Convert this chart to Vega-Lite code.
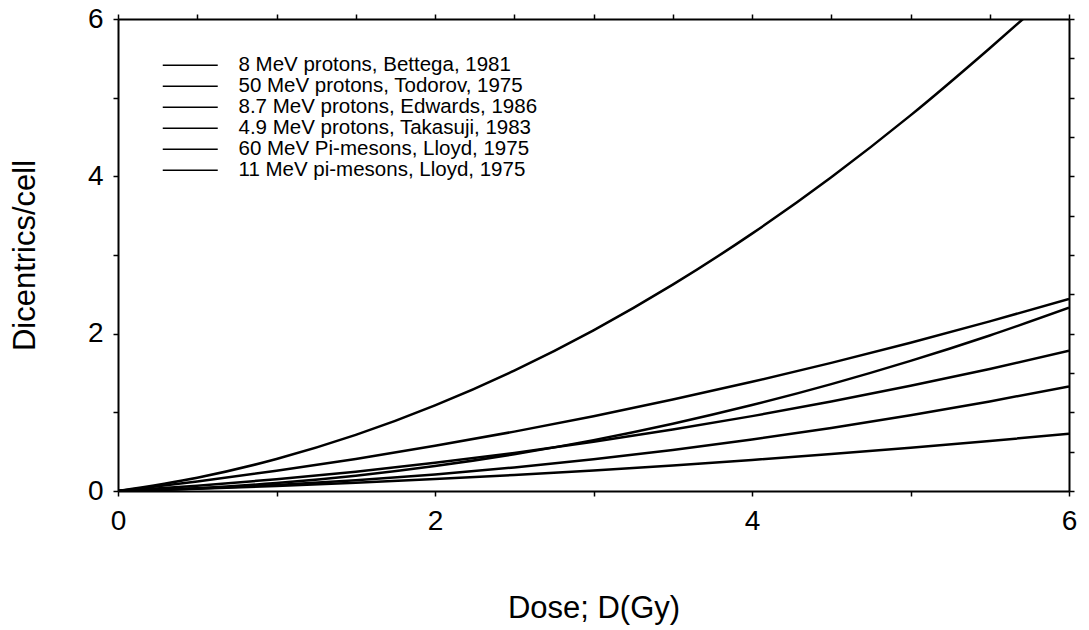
{
  "$schema": "https://vega.github.io/schema/vega-lite/v6.json",
  "width": 951,
  "height": 472,
  "autosize": {"type": "none"},
  "padding": {"left": 118, "top": 19, "right": 20, "bottom": 139},
  "background": "white",
  "config": {
    "view": {"stroke": null},
    "font": "Liberation Sans",
    "axis": {
      "domainColor": "black",
      "domainWidth": 2,
      "tickColor": "black",
      "tickWidth": 1.5,
      "tickSize": 5,
      "grid": false,
      "labelColor": "black",
      "titleColor": "black",
      "labelFont": "Liberation Sans",
      "titleFont": "Liberation Sans",
      "titleFontWeight": "normal"
    }
  },
  "data": {
    "values": [
      {"series": "8 MeV protons, Bettega, 1981", "dose": 0, "dic": 0},
      {"series": "8 MeV protons, Bettega, 1981", "dose": 0.5, "dic": 0.169},
      {"series": "8 MeV protons, Bettega, 1981", "dose": 1, "dic": 0.407},
      {"series": "8 MeV protons, Bettega, 1981", "dose": 1.5, "dic": 0.713},
      {"series": "8 MeV protons, Bettega, 1981", "dose": 2, "dic": 1.088},
      {"series": "8 MeV protons, Bettega, 1981", "dose": 2.5, "dic": 1.531},
      {"series": "8 MeV protons, Bettega, 1981", "dose": 3, "dic": 2.043},
      {"series": "8 MeV protons, Bettega, 1981", "dose": 3.5, "dic": 2.623},
      {"series": "8 MeV protons, Bettega, 1981", "dose": 4, "dic": 3.272},
      {"series": "8 MeV protons, Bettega, 1981", "dose": 4.5, "dic": 3.989},
      {"series": "8 MeV protons, Bettega, 1981", "dose": 5, "dic": 4.775},
      {"series": "8 MeV protons, Bettega, 1981", "dose": 5.5, "dic": 5.629},
      {"series": "8 MeV protons, Bettega, 1981", "dose": 5.71, "dic": 6.0},
      {"series": "50 MeV protons, Todorov, 1975", "dose": 0, "dic": 0},
      {"series": "50 MeV protons, Todorov, 1975", "dose": 0.5, "dic": 0.121},
      {"series": "50 MeV protons, Todorov, 1975", "dose": 1, "dic": 0.257},
      {"series": "50 MeV protons, Todorov, 1975", "dose": 1.5, "dic": 0.408},
      {"series": "50 MeV protons, Todorov, 1975", "dose": 2, "dic": 0.574},
      {"series": "50 MeV protons, Todorov, 1975", "dose": 2.5, "dic": 0.755},
      {"series": "50 MeV protons, Todorov, 1975", "dose": 3, "dic": 0.951},
      {"series": "50 MeV protons, Todorov, 1975", "dose": 3.5, "dic": 1.162},
      {"series": "50 MeV protons, Todorov, 1975", "dose": 4, "dic": 1.388},
      {"series": "50 MeV protons, Todorov, 1975", "dose": 4.5, "dic": 1.629},
      {"series": "50 MeV protons, Todorov, 1975", "dose": 5, "dic": 1.885},
      {"series": "50 MeV protons, Todorov, 1975", "dose": 5.5, "dic": 2.156},
      {"series": "50 MeV protons, Todorov, 1975", "dose": 6, "dic": 2.442},
      {"series": "8.7 MeV protons, Edwards, 1986", "dose": 0, "dic": 0},
      {"series": "8.7 MeV protons, Edwards, 1986", "dose": 0.5, "dic": 0.036},
      {"series": "8.7 MeV protons, Edwards, 1986", "dose": 1, "dic": 0.101},
      {"series": "8.7 MeV protons, Edwards, 1986", "dose": 1.5, "dic": 0.194},
      {"series": "8.7 MeV protons, Edwards, 1986", "dose": 2, "dic": 0.317},
      {"series": "8.7 MeV protons, Edwards, 1986", "dose": 2.5, "dic": 0.468},
      {"series": "8.7 MeV protons, Edwards, 1986", "dose": 3, "dic": 0.647},
      {"series": "8.7 MeV protons, Edwards, 1986", "dose": 3.5, "dic": 0.856},
      {"series": "8.7 MeV protons, Edwards, 1986", "dose": 4, "dic": 1.093},
      {"series": "8.7 MeV protons, Edwards, 1986", "dose": 4.5, "dic": 1.359},
      {"series": "8.7 MeV protons, Edwards, 1986", "dose": 5, "dic": 1.654},
      {"series": "8.7 MeV protons, Edwards, 1986", "dose": 5.5, "dic": 1.977},
      {"series": "8.7 MeV protons, Edwards, 1986", "dose": 6, "dic": 2.33},
      {"series": "4.9 MeV protons, Takasuji, 1983", "dose": 0, "dic": 0},
      {"series": "4.9 MeV protons, Takasuji, 1983", "dose": 0.5, "dic": 0.067},
      {"series": "4.9 MeV protons, Takasuji, 1983", "dose": 1, "dic": 0.15},
      {"series": "4.9 MeV protons, Takasuji, 1983", "dose": 1.5, "dic": 0.246},
      {"series": "4.9 MeV protons, Takasuji, 1983", "dose": 2, "dic": 0.358},
      {"series": "4.9 MeV protons, Takasuji, 1983", "dose": 2.5, "dic": 0.484},
      {"series": "4.9 MeV protons, Takasuji, 1983", "dose": 3, "dic": 0.626},
      {"series": "4.9 MeV protons, Takasuji, 1983", "dose": 3.5, "dic": 0.781},
      {"series": "4.9 MeV protons, Takasuji, 1983", "dose": 4, "dic": 0.952},
      {"series": "4.9 MeV protons, Takasuji, 1983", "dose": 4.5, "dic": 1.137},
      {"series": "4.9 MeV protons, Takasuji, 1983", "dose": 5, "dic": 1.338},
      {"series": "4.9 MeV protons, Takasuji, 1983", "dose": 5.5, "dic": 1.552},
      {"series": "4.9 MeV protons, Takasuji, 1983", "dose": 6, "dic": 1.782},
      {"series": "60 MeV Pi-mesons, Lloyd, 1975", "dose": 0, "dic": 0},
      {"series": "60 MeV Pi-mesons, Lloyd, 1975", "dose": 0.5, "dic": 0.031},
      {"series": "60 MeV Pi-mesons, Lloyd, 1975", "dose": 1, "dic": 0.076},
      {"series": "60 MeV Pi-mesons, Lloyd, 1975", "dose": 1.5, "dic": 0.136},
      {"series": "60 MeV Pi-mesons, Lloyd, 1975", "dose": 2, "dic": 0.21},
      {"series": "60 MeV Pi-mesons, Lloyd, 1975", "dose": 2.5, "dic": 0.299},
      {"series": "60 MeV Pi-mesons, Lloyd, 1975", "dose": 3, "dic": 0.403},
      {"series": "60 MeV Pi-mesons, Lloyd, 1975", "dose": 3.5, "dic": 0.521},
      {"series": "60 MeV Pi-mesons, Lloyd, 1975", "dose": 4, "dic": 0.654},
      {"series": "60 MeV Pi-mesons, Lloyd, 1975", "dose": 4.5, "dic": 0.801},
      {"series": "60 MeV Pi-mesons, Lloyd, 1975", "dose": 5, "dic": 0.963},
      {"series": "60 MeV Pi-mesons, Lloyd, 1975", "dose": 5.5, "dic": 1.139},
      {"series": "60 MeV Pi-mesons, Lloyd, 1975", "dose": 6, "dic": 1.33},
      {"series": "11 MeV pi-mesons, Lloyd, 1975", "dose": 0, "dic": 0},
      {"series": "11 MeV pi-mesons, Lloyd, 1975", "dose": 0.5, "dic": 0.029},
      {"series": "11 MeV pi-mesons, Lloyd, 1975", "dose": 1, "dic": 0.064},
      {"series": "11 MeV pi-mesons, Lloyd, 1975", "dose": 1.5, "dic": 0.105},
      {"series": "11 MeV pi-mesons, Lloyd, 1975", "dose": 2, "dic": 0.152},
      {"series": "11 MeV pi-mesons, Lloyd, 1975", "dose": 2.5, "dic": 0.204},
      {"series": "11 MeV pi-mesons, Lloyd, 1975", "dose": 3, "dic": 0.262},
      {"series": "11 MeV pi-mesons, Lloyd, 1975", "dose": 3.5, "dic": 0.325},
      {"series": "11 MeV pi-mesons, Lloyd, 1975", "dose": 4, "dic": 0.394},
      {"series": "11 MeV pi-mesons, Lloyd, 1975", "dose": 4.5, "dic": 0.469},
      {"series": "11 MeV pi-mesons, Lloyd, 1975", "dose": 5, "dic": 0.55},
      {"series": "11 MeV pi-mesons, Lloyd, 1975", "dose": 5.5, "dic": 0.636},
      {"series": "11 MeV pi-mesons, Lloyd, 1975", "dose": 6, "dic": 0.728}
    ]
  },
  "layer": [
    {
      "mark": {"type": "line", "interpolate": "monotone", "strokeWidth": 2.5, "clip": true},
      "encoding": {
        "x": {
          "field": "dose", "type": "quantitative",
          "scale": {"domain": [0, 6], "nice": false, "zero": false},
          "axis": {
            "orient": "bottom",
            "values": [0, 0.5, 1, 1.5, 2, 2.5, 3, 3.5, 4, 4.5, 5, 5.5, 6],
            "format": "d",
            "labelExpr": "datum.value % 2 === 0 ? datum.label : ''",
            "labelFontSize": 28,
            "labelPadding": 11,
            "labelFlush": false,
            "labelOverlap": false,
            "title": "Dose; D(Gy)",
            "titleFontSize": 31,
            "titlePadding": 58
          }
        },
        "y": {
          "field": "dic", "type": "quantitative",
          "scale": {"domain": [0, 6], "nice": false},
          "axis": {
            "orient": "left",
            "values": [0, 0.5, 1, 1.5, 2, 2.5, 3, 3.5, 4, 4.5, 5, 5.5, 6],
            "format": "d",
            "labelExpr": "datum.value % 2 === 0 ? datum.label : ''",
            "labelFontSize": 28,
            "labelPadding": 10,
            "labelFlush": false,
            "labelOverlap": false,
            "title": "Dicentrics/cell",
            "titleFontSize": 31,
            "titlePadding": 46
          }
        },
        "color": {
          "field": "series", "type": "nominal",
          "scale": {
            "domain": ["8 MeV protons, Bettega, 1981", "50 MeV protons, Todorov, 1975", "8.7 MeV protons, Edwards, 1986", "4.9 MeV protons, Takasuji, 1983", "60 MeV Pi-mesons, Lloyd, 1975", "11 MeV pi-mesons, Lloyd, 1975"],
            "range": ["black", "black", "black", "black", "black", "black"]
          },
          "legend": {
            "orient": "none",
            "legendX": 62,
            "legendY": 36,
            "title": null,
            "padding": 0,
            "symbolType": "M-4,0H4",
            "symbolSize": 189,
            "symbolStrokeWidth": 1.5,
            "symbolStrokeColor": "black",
            "symbolFillColor": "black",
            "labelFont": "Liberation Sans",
            "labelFontSize": 20.5,
            "labelColor": "black",
            "labelOffset": 38,
            "labelLimit": 0,
            "rowPadding": -1.5
          }
        }
      }
    },
    {
      "mark": {"type": "line", "opacity": 0},
      "encoding": {
        "x": {
          "field": "dose", "type": "quantitative",
          "axis": {
            "orient": "top",
            "values": [0, 0.5, 1, 1.5, 2, 2.5, 3, 3.5, 4, 4.5, 5, 5.5, 6],
            "labels": false,
            "title": null
          }
        },
        "y": {
          "field": "dic", "type": "quantitative",
          "axis": {
            "orient": "right",
            "values": [0, 0.5, 1, 1.5, 2, 2.5, 3, 3.5, 4, 4.5, 5, 5.5, 6],
            "labels": false,
            "title": null
          }
        },
        "detail": {"field": "series"}
      }
    }
  ],
  "resolve": {"axis": {"x": "independent", "y": "independent"}}
}
